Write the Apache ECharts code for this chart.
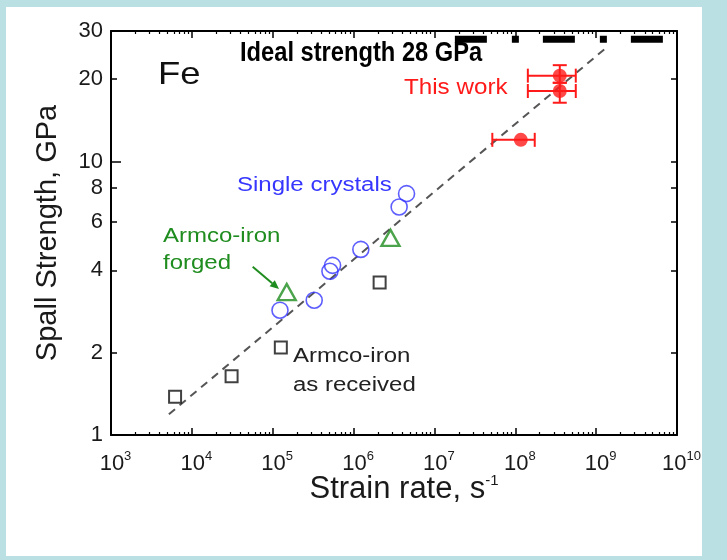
<!DOCTYPE html>
<html>
<head>
<meta charset="utf-8">
<script src="https://cdn.jsdelivr.net/npm/echarts@6/dist/echarts.min.js"></script>
<style>
  html, body { margin: 0; padding: 0; background: #bbe0e3; }
  #chart { width: 727px; height: 560px; }
</style>
</head>
<body>
<div id="chart"></div>
<script>
// Spall strength of iron versus strain rate (log–log)
const xTickExponents = [3, 4, 5, 6, 7, 8, 9, 10];
const yTickLabels = [1, 2, 4, 6, 8, 10, 20, 30];

// Armco-iron, as received
const armcoReceivedRate = [6.2e3, 3.1e4, 1.26e5, 2.1e6];
const armcoReceivedStrength = [1.38, 1.64, 2.09, 3.61];

// Single crystals
const singleCrystalRate = [1.23e5, 3.26e5, 5.1e5, 5.5e5, 1.23e6, 3.66e6, 4.52e6];
const singleCrystalStrength = [2.86, 3.11, 3.97, 4.17, 4.77, 6.82, 7.63];

// Armco-iron, forged
const armcoForgedRate = [1.49e5, 2.86e6];
const armcoForgedStrength = [3.33, 5.26];

// This work, with error bars
const thisWorkRate = [1.17e8, 3.55e8, 3.55e8];
const thisWorkStrength = [12.0, 18.1, 20.6];
const thisWorkRateLow = [5.2e7, 1.43e8, 1.43e8];
const thisWorkRateHigh = [1.74e8, 5.6e8, 5.6e8];
const thisWorkStrengthLow = [null, 16.4, 19.4];
const thisWorkStrengthHigh = [null, 19.4, 22.5];

// Power-law trend
const trendRate = [5.2e3, 1.28e9];
const trendStrength = [1.19, 25.8];

// Ideal strength level
const idealRate = [1.79e7, 6.84e9];
const idealStrength = 28;

const L = Math.log10;
const pts = (xs, ys) => xs.map((x, i) => [L(x), L(ys[i])]);

const minorExponents = [];
for (let d = 3; d < 10; d++) {
  for (let m = 2; m <= 9; m++) minorExponents.push(d + L(m));
}

const FONT = '"Liberation Sans", Arial, sans-serif';
const gridBox = { left: 111, top: 31, right: 50, bottom: 125 };
const frameLine = { onZero: false, lineStyle: { color: '#000', width: 2 } };
const noLine = { show: false, onZero: false };

const chart = echarts.init(document.getElementById('chart'));

const errData = thisWorkRate.map((r, i) => [
  L(r), L(thisWorkStrength[i]),
  L(thisWorkRateLow[i]), L(thisWorkRateHigh[i]),
  thisWorkStrengthLow[i] == null ? NaN : L(thisWorkStrengthLow[i]),
  thisWorkStrengthHigh[i] == null ? NaN : L(thisWorkStrengthHigh[i])
]);

const RED = '#ff1a1a';

chart.setOption({
  backgroundColor: '#bbe0e3',
  animation: false,
  grid: [Object.assign({}, gridBox), Object.assign({}, gridBox)],
  xAxis: [
    {
      gridIndex: 0, type: 'value', position: 'bottom', min: 3, max: 10,
      axisLine: frameLine,
      axisTick: { inside: true, length: 7, customValues: xTickExponents, lineStyle: { color: '#000', width: 1.5 } },
      splitLine: { show: false },
      axisLabel: {
        customValues: xTickExponents, margin: 15, padding: [0, 0, 0, 9],
        formatter: v => '{b|10}{s|' + Math.round(v) + '}',
        rich: {
          b: { fontSize: 22, fontFamily: FONT, color: '#1a1a1a' },
          s: { fontSize: 13, fontFamily: FONT, color: '#1a1a1a', padding: [0, 0, 14, 0] }
        }
      },
      name: '{t|Strain rate, s}{u|-1}',
      nameLocation: 'middle', nameGap: 38, nameMoveOverlap: false,
      nameTextStyle: {
        padding: [0, 0, 0, 20],
        rich: {
          t: { fontSize: 31, fontFamily: FONT, color: '#1a1a1a' },
          u: { fontSize: 15, fontFamily: FONT, color: '#1a1a1a', padding: [0, 0, 18, 0] }
        }
      }
    },
    {
      gridIndex: 0, type: 'value', position: 'top', min: 3, max: 10,
      axisLine: frameLine,
      axisTick: { inside: true, length: 7, customValues: xTickExponents, lineStyle: { color: '#000', width: 1.5 } },
      axisLabel: { show: false }, splitLine: { show: false }
    },
    {
      gridIndex: 1, type: 'value', position: 'bottom', min: 3, max: 10,
      axisLine: noLine,
      axisTick: { inside: true, length: 3, customValues: minorExponents, lineStyle: { color: '#000', width: 1.2 } },
      axisLabel: { show: false }, splitLine: { show: false }
    },
    {
      gridIndex: 1, type: 'value', position: 'top', min: 3, max: 10,
      axisLine: noLine,
      axisTick: { inside: true, length: 3, customValues: minorExponents, lineStyle: { color: '#000', width: 1.2 } },
      axisLabel: { show: false }, splitLine: { show: false }
    }
  ],
  yAxis: [
    {
      gridIndex: 0, type: 'value', position: 'left', min: 0, max: L(30),
      axisLine: frameLine,
      axisTick: { inside: true, length: 6, customValues: yTickLabels.map(L), lineStyle: { color: '#000', width: 1.5 } },
      splitLine: { show: false },
      axisLabel: {
        customValues: yTickLabels.map(L), margin: 8,
        fontSize: 22, fontFamily: FONT, color: '#1a1a1a',
        formatter: v => String(Math.round(Math.pow(10, v)))
      },
      name: 'Spall Strength, GPa',
      nameLocation: 'middle', nameGap: 49,
      nameTextStyle: { fontSize: 29, fontFamily: FONT, color: '#1a1a1a' }
    },
    {
      gridIndex: 0, type: 'value', position: 'right', min: 0, max: L(30),
      axisLine: frameLine,
      axisTick: { inside: true, length: 6, customValues: yTickLabels.map(L), lineStyle: { color: '#000', width: 1.5 } },
      axisLabel: { show: false }, splitLine: { show: false }
    },
    {
      gridIndex: 1, type: 'value', position: 'left', min: 0, max: L(30),
      axisLine: noLine,
      axisTick: { inside: true, length: 10, customValues: [L(10)], lineStyle: { color: '#000', width: 1.5 } },
      axisLabel: { show: false }, splitLine: { show: false }
    },
    {
      gridIndex: 1, type: 'value', position: 'right', min: 0, max: L(30),
      axisLine: noLine, axisTick: { show: false },
      axisLabel: { show: false }, splitLine: { show: false }
    }
  ],
  series: [
    {
      name: 'trend', type: 'line', xAxisIndex: 0, yAxisIndex: 0,
      data: pts(trendRate, trendStrength), symbol: 'none', z: 1,
      lineStyle: { color: '#555', width: 2, type: [8, 6] }
    },
    {
      name: 'ideal', type: 'line', xAxisIndex: 0, yAxisIndex: 0,
      data: idealRate.map(r => [L(r), L(idealStrength)]), symbol: 'none', z: 5,
      lineStyle: { color: '#000', width: 7, type: [32, 25, 7, 24], cap: 'butt' }
    },
    {
      name: 'Armco-iron as received', type: 'scatter', xAxisIndex: 0, yAxisIndex: 0,
      data: pts(armcoReceivedRate, armcoReceivedStrength),
      symbol: 'rect', symbolSize: 12,
      itemStyle: { color: 'rgba(0,0,0,0)', borderColor: '#111', borderWidth: 2 }
    },
    {
      name: 'Single crystals', type: 'scatter', xAxisIndex: 0, yAxisIndex: 0,
      data: pts(singleCrystalRate, singleCrystalStrength),
      symbol: 'circle', symbolSize: 16,
      itemStyle: { color: 'rgba(0,0,0,0)', borderColor: '#3636ff', borderWidth: 1.6 }
    },
    {
      name: 'Armco-iron forged', type: 'scatter', xAxisIndex: 0, yAxisIndex: 0,
      data: pts(armcoForgedRate, armcoForgedStrength),
      symbol: 'triangle', symbolSize: [18, 16],
      itemStyle: { color: 'rgba(0,0,0,0)', borderColor: '#1e8c1e', borderWidth: 2.4 }
    },
    {
      name: 'This work error', type: 'custom', xAxisIndex: 0, yAxisIndex: 0,
      data: errData, encode: { x: 0, y: 1 }, z: 3,
      renderItem: (params, api) => {
        const style = { stroke: RED, lineWidth: 2, fill: null };
        const c = api.coord([api.value(0), api.value(1)]);
        const lo = api.coord([api.value(2), api.value(1)]);
        const hi = api.coord([api.value(3), api.value(1)]);
        const cap = 7;
        const children = [
          { type: 'line', shape: { x1: lo[0], y1: c[1], x2: hi[0], y2: c[1] }, style },
          { type: 'line', shape: { x1: lo[0], y1: c[1] - cap, x2: lo[0], y2: c[1] + cap }, style },
          { type: 'line', shape: { x1: hi[0], y1: c[1] - cap, x2: hi[0], y2: c[1] + cap }, style }
        ];
        const sLo = api.value(4), sHi = api.value(5);
        if (isFinite(sLo) && isFinite(sHi)) {
          const b = api.coord([api.value(0), sLo]);
          const t = api.coord([api.value(0), sHi]);
          children.push(
            { type: 'line', shape: { x1: c[0], y1: b[1], x2: c[0], y2: t[1] }, style },
            { type: 'line', shape: { x1: c[0] - cap, y1: b[1], x2: c[0] + cap, y2: b[1] }, style },
            { type: 'line', shape: { x1: c[0] - cap, y1: t[1], x2: c[0] + cap, y2: t[1] }, style }
          );
        }
        return { type: 'group', children };
      }
    },
    {
      name: 'This work', type: 'scatter', xAxisIndex: 0, yAxisIndex: 0,
      data: pts(thisWorkRate, thisWorkStrength), z: 4,
      symbol: 'circle', symbolSize: 14,
      itemStyle: { color: RED }
    }
  ],
  graphic: [
    { type: 'rect', z: -10, silent: true, shape: { x: 6, y: 7, width: 696, height: 549 }, style: { fill: '#ffffff' } },
    { type: 'text', x: 158, y: 75.5, scaleX: 1.14, z: 1,
      style: { text: 'Fe', x: 0, y: 0, verticalAlign: 'middle', font: '32px ' + FONT, fill: '#111' } },
    { type: 'text', x: 240, y: 53, scaleX: 0.846, z: 1,
      style: { text: 'Ideal strength 28 GPa', x: 0, y: 0, verticalAlign: 'middle', font: 'bold 28px ' + FONT, fill: '#000' } },
    { type: 'text', x: 404, y: 88, scaleX: 1.1, z: 1,
      style: { text: 'This work', x: 0, y: 0, verticalAlign: 'middle', font: '22px ' + FONT, fill: RED } },
    { type: 'text', x: 237, y: 185, scaleX: 1.2, z: 1,
      style: { text: 'Single crystals', x: 0, y: 0, verticalAlign: 'middle', font: '20px ' + FONT, fill: '#3636ff' } },
    { type: 'text', x: 163, y: 236, scaleX: 1.2, z: 1,
      style: { text: 'Armco-iron', x: 0, y: 0, verticalAlign: 'middle', font: '20px ' + FONT, fill: '#1e8c1e' } },
    { type: 'text', x: 163, y: 263, scaleX: 1.2, z: 1,
      style: { text: 'forged', x: 0, y: 0, verticalAlign: 'middle', font: '20px ' + FONT, fill: '#1e8c1e' } },
    { type: 'text', x: 293, y: 356, scaleX: 1.2, z: 1,
      style: { text: 'Armco-iron', x: 0, y: 0, verticalAlign: 'middle', font: '20px ' + FONT, fill: '#222' } },
    { type: 'text', x: 293, y: 385, scaleX: 1.2, z: 1,
      style: { text: 'as received', x: 0, y: 0, verticalAlign: 'middle', font: '20px ' + FONT, fill: '#222' } },
    { type: 'line', z: 1, shape: { x1: 252.7, y1: 266.7, x2: 272.2, y2: 283.2 }, style: { stroke: '#1e8c1e', lineWidth: 2 } },
    { type: 'polygon', z: 1, shape: { points: [[279, 289], [269.6, 286.2], [274.8, 280.2]] }, style: { fill: '#1e8c1e' } }
  ]
});
</script>
</body>
</html>
